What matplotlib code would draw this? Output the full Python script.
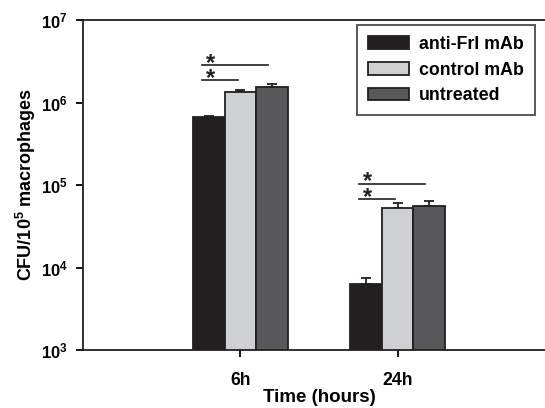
import numpy as np
import matplotlib
matplotlib.use("Agg")
from matplotlib import pyplot as plt
from matplotlib.patches import Patch

plt.rcParams['font.family'] = ['Liberation Sans', 'DejaVu Sans']
plt.rcParams['font.weight'] = 'bold'
plt.rcParams['mathtext.fontset'] = 'custom'
plt.rcParams['mathtext.rm'] = 'Liberation Sans:bold'
plt.rcParams['mathtext.bf'] = 'Liberation Sans:bold'
plt.rcParams['mathtext.default'] = 'bf'

# data
times = ["6h", "24h"]
groups = ["anti-FrI mAb", "control mAb", "untreated"]
anti_fri = [6.6e5, 6.27e3]
anti_fri_err = [0.35e5, 1.15e3]
control = [1.33e6, 5.25e4]
control_err = [0.08e6, 0.73e4]
untreated = [1.56e6, 5.6e4]
untreated_err = [0.11e6, 0.85e4]
colors = ["#231f20", "#cfd0d2", "#58585a"]

# significance bars: (x start, x end, y)
sig_lines = [(-0.245, 0.178, 2.85e6), (-0.245, -0.013, 1.86e6),
             (0.752, 1.172, 1.04e5), (0.752, 0.985, 6.77e4)]

fig = plt.figure(figsize=(5.45, 4.08), dpi=100)
ax = fig.add_axes([83/545, 1-350/408, (555-83)/545, (350-20)/408])

x = np.arange(len(times))
w = 0.2
series = [anti_fri, control, untreated]
errs = [anti_fri_err, control_err, untreated_err]
for i in range(3):
    ax.bar(x + (i-1)*w, series[i], w, color=colors[i], edgecolor="#231f20",
           linewidth=1.3, label=groups[i], zorder=2)
    ax.errorbar(x + (i-1)*w, series[i], yerr=[np.zeros(2), errs[i]], fmt="none",
                ecolor="#231f20", elinewidth=1.3, capsize=3.6, capthick=1.3, zorder=1)

for (x0, x1, y) in sig_lines:
    ax.plot([x0, x1], [y, y], color="#231f20", linewidth=1.2)
    ax.annotate("*", (x0 + 0.055, y), xytext=(0, -3.5), textcoords="offset points",
                ha="center", va="baseline", fontsize=17, fontweight="bold",
                color="#231f20")

ax.set_yscale("log")
ax.set_ylim(1e3, 1e7)
ax.set_xlim(-1, 2)
yt = [1e3, 1e4, 1e5, 1e6, 1e7]
ax.set_yticks(yt)
ax.set_yticklabels([r"$\mathbf{10^{%d}}$" % int(np.log10(v)) for v in yt], fontsize=12)
ax.yaxis.set_minor_locator(matplotlib.ticker.NullLocator())
ax.set_xticks(x)
ax.set_xticklabels(times, fontsize=12.7, fontweight="bold")
ax.tick_params(axis="x", direction="out", length=5, width=1.3, pad=11)
ax.tick_params(axis="y", direction="out", length=5, width=1.3, pad=6)
for s in ax.spines.values():
    s.set_linewidth(1.3)
    s.set_color("#231f20")

ax.set_xlabel("Time (hours)", fontsize=13.5, fontweight="bold", labelpad=0)
ax.set_ylabel(r"CFU/10$^{\mathbf{5}}$ macrophages", fontsize=13, fontweight="bold", labelpad=2)

handles = [Patch(facecolor=colors[i], edgecolor="#231f20", linewidth=1.3, label=groups[i])
           for i in range(3)]
leg = ax.legend(handles=handles, loc="upper left", bbox_to_anchor=((357-83)/472, 1-(25-20)/330),
                borderaxespad=0, fontsize=12.8, frameon=True, fancybox=False,
                edgecolor="#231f20", handlelength=2.3, handleheight=0.7,
                handletextpad=0.6, borderpad=0.6, labelspacing=0.5)
leg.get_frame().set_linewidth(1.3)

fig.savefig("out.png", dpi=100)
